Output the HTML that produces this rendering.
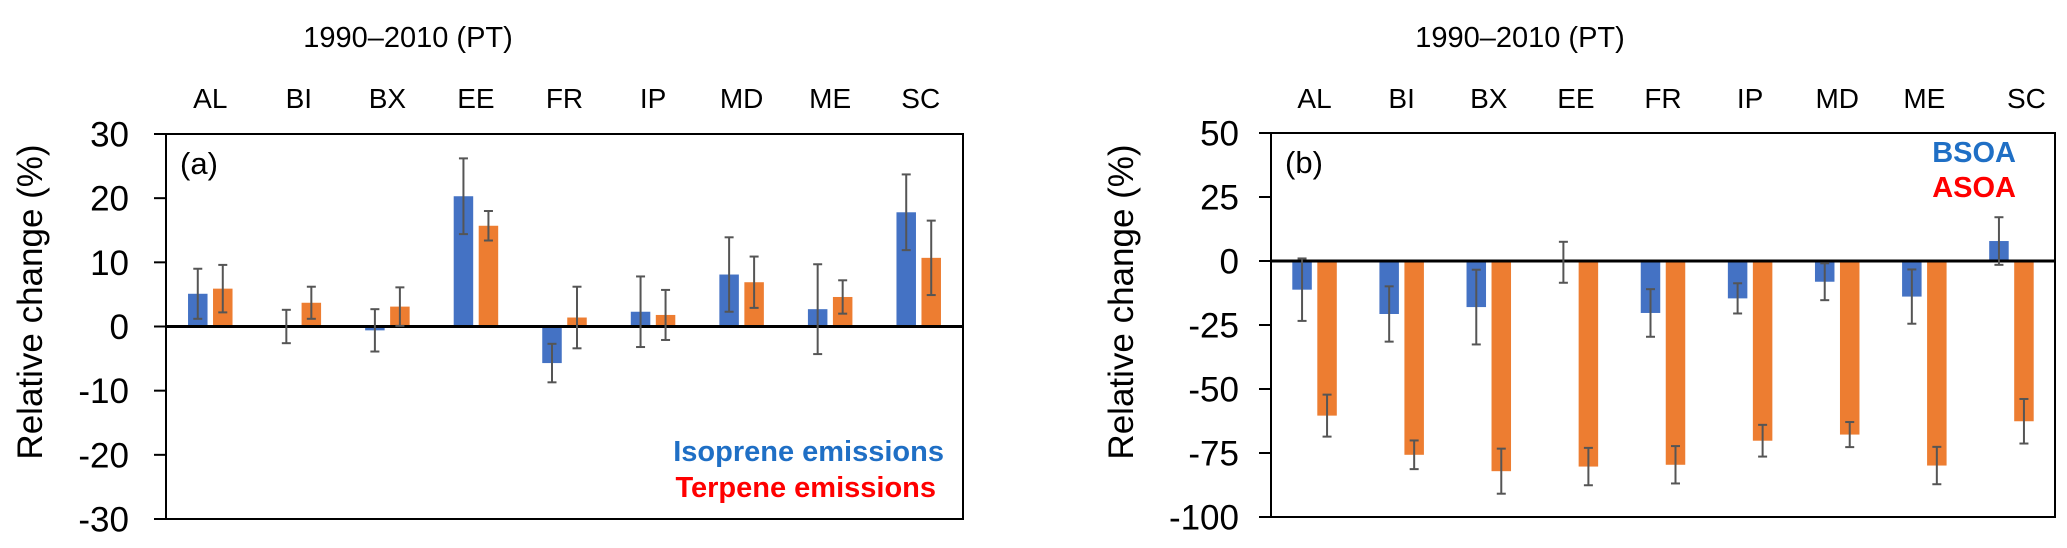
<!DOCTYPE html>
<html><head><meta charset="utf-8"><style>
html,body{margin:0;padding:0;background:#fff;}
svg{display:block;font-family:"Liberation Sans",Arial,sans-serif;}
</style></head><body>
<svg id="chart" width="2067" height="548" viewBox="0 0 2067 548" xmlns="http://www.w3.org/2000/svg"></svg>
<script>
const categories = ["AL","BI","BX","EE","FR","IP","MD","ME","SC"];
const isopreneValues = [5.1, 0, -0.6, 20.3, -5.7, 2.3, 8.1, 2.7, 17.8];
const isopreneErrors = [3.9, 2.6, 3.3, 5.9, 3.0, 5.5, 5.8, 7.0, 5.9];
const terpeneValues = [5.9, 3.7, 3.1, 15.7, 1.4, 1.8, 6.9, 4.6, 10.7];
const terpeneErrors = [3.7, 2.5, 3.0, 2.3, 4.8, 3.9, 4.0, 2.6, 5.8];
const leftTicks = [30, 20, 10, 0, -10, -20, -30];
const bsoaValues = [-11.2, -20.7, -18.0, -0.5, -20.3, -14.6, -8.1, -13.9, 7.8];
const bsoaErrors = [12.2, 10.8, 14.6, 8.0, 9.3, 5.9, 7.2, 10.6, 9.3];
const asoaValues = [-60.4, -75.7, -82.1, -80.3, -79.6, -70.2, -67.8, -79.9, -62.6];
const asoaErrors = [8.2, 5.6, 8.8, 7.3, 7.3, 6.2, 4.9, 7.3, 8.7];
const rightTicks = [50, 25, 0, -25, -50, -75, -100];

const NS = "http://www.w3.org/2000/svg";
const svg = document.getElementById("chart");
function mk(tag, attrs, parent, text){
  const e = document.createElementNS(NS, tag);
  for (const k in attrs) e.setAttribute(k, attrs[k]);
  if (text !== undefined) e.textContent = text;
  (parent || svg).appendChild(e);
  return e;
}

function panel(cfg){
  const g = mk("g", {});
  
  
  const {x0, x1, y0, y1, ymax, ymin} = cfg;
  const y = v => y0 + (ymax - v) / (ymax - ymin) * (y1 - y0);
  const cw = (x1 - x0) / categories.length;
  const cx = i => x0 + cw * (i + 0.5);

  const title = mk("text", {x: cfg.titleX, y: 47, "font-size": 29, "text-anchor": "middle", fill: "#000"}, g, "1990–2010 (PT)");
  
  

  categories.forEach((c, i) => {
    const t = mk("text", {x: cx(i) + (i === categories.length - 1 ? cfg.lastShift : 0), y: 108, "font-size": 28, "text-anchor": "middle", fill: "#000"}, g, c);
    
    
  });

  const box = mk("rect", {x: x0, y: y0, width: x1 - x0, height: y1 - y0, fill: "none", stroke: "#000", "stroke-width": 2}, g);
  
  

  cfg.ticks.forEach(v => {
    const ty = y(v);
    const tk = mk("line", {x1: x0 - 12, x2: x0, y1: ty, y2: ty, stroke: "#000", "stroke-width": 2}, g);
    
    
    const tl = mk("text", {x: cfg.tickLabelX, y: ty + 12.5, "font-size": 35, "text-anchor": "end", fill: "#000"}, g, String(v));
    
    
  });

  const yt = mk("text", {x: 0, y: 0, "font-size": 35, "text-anchor": "middle", fill: "#000", transform: `translate(${cfg.yTitleX},${302}) rotate(-90)`}, g, "Relative change (%)");
  
  

  const pl = mk("text", {x: x0 + 14, y: y0 + 40, "font-size": 31, fill: "#000"}, g, cfg.label);
  
  

  const bw = 19.5, gap = 5.5;
  const series = [
    {vals: cfg.s1, errs: cfg.e1, color: "#4472c4", off: -(gap / 2 + bw / 2), key: cfg.k1},
    {vals: cfg.s2, errs: cfg.e2, color: "#ed7d31", off: (gap / 2 + bw / 2), key: cfg.k2}
  ];
  series.forEach(s => {
    s.vals.forEach((v, i) => {
      const bx = cx(i) + s.off;
      const top = Math.min(y(v), y(0)), h = Math.abs(y(v) - y(0));
      const r = mk("rect", {x: bx - bw / 2, y: top, width: bw, height: Math.max(h, 0.5), fill: s.color}, g);
      
      
    });
  });

  const zl = mk("line", {x1: x0, x2: x1, y1: y(0), y2: y(0), stroke: "#000", "stroke-width": 3}, g);
  
  

  series.forEach(s => {
    s.vals.forEach((v, i) => {
      const bx = cx(i) + s.off;
      const ya = y(v + s.errs[i]), yb = y(v - s.errs[i]);
      const eg = mk("g", {stroke: "#555", "stroke-width": 2}, g);
      
      
      mk("line", {x1: bx, x2: bx, y1: ya, y2: yb}, eg);
      mk("line", {x1: bx - 4.5, x2: bx + 4.5, y1: ya, y2: ya}, eg);
      mk("line", {x1: bx - 4.5, x2: bx + 4.5, y1: yb, y2: yb}, eg);
    });
  });

  cfg.legend.forEach(L => {
    const t = mk("text", {x: L.x, y: L.y, "font-size": 29, "font-weight": "bold", "text-anchor": "end", fill: L.color}, g, L.text);
    
    
  });
}

panel({name: "panel-a", x0: 166, x1: 963, y0: 134, y1: 519, ymax: 30, ymin: -30,
  ticks: leftTicks, tickLabelX: 129, yTitleX: 42, titleX: 408, label: "(a)", lastShift: 2,
  s1: isopreneValues, e1: isopreneErrors, s2: terpeneValues, e2: terpeneErrors, k1: "isoprene", k2: "terpene",
  legend: [{x: 944, y: 461, color: "#1f6fc5", text: "Isoprene emissions", name: "legend-isoprene"},
           {x: 936, y: 497, color: "#ff0000", text: "Terpene emissions", name: "legend-terpene"}]});

panel({name: "panel-b", x0: 1271, x1: 2055, y0: 133, y1: 517, ymax: 50, ymin: -100,
  ticks: rightTicks, tickLabelX: 1239, yTitleX: 1133, titleX: 1520, label: "(b)", lastShift: 15,
  s1: bsoaValues, e1: bsoaErrors, s2: asoaValues, e2: asoaErrors, k1: "bsoa", k2: "asoa",
  legend: [{x: 2016, y: 162, color: "#1f6fc5", text: "BSOA", name: "legend-bsoa"},
           {x: 2016, y: 197, color: "#ff0000", text: "ASOA", name: "legend-asoa"}]});
</script>
</body></html>
